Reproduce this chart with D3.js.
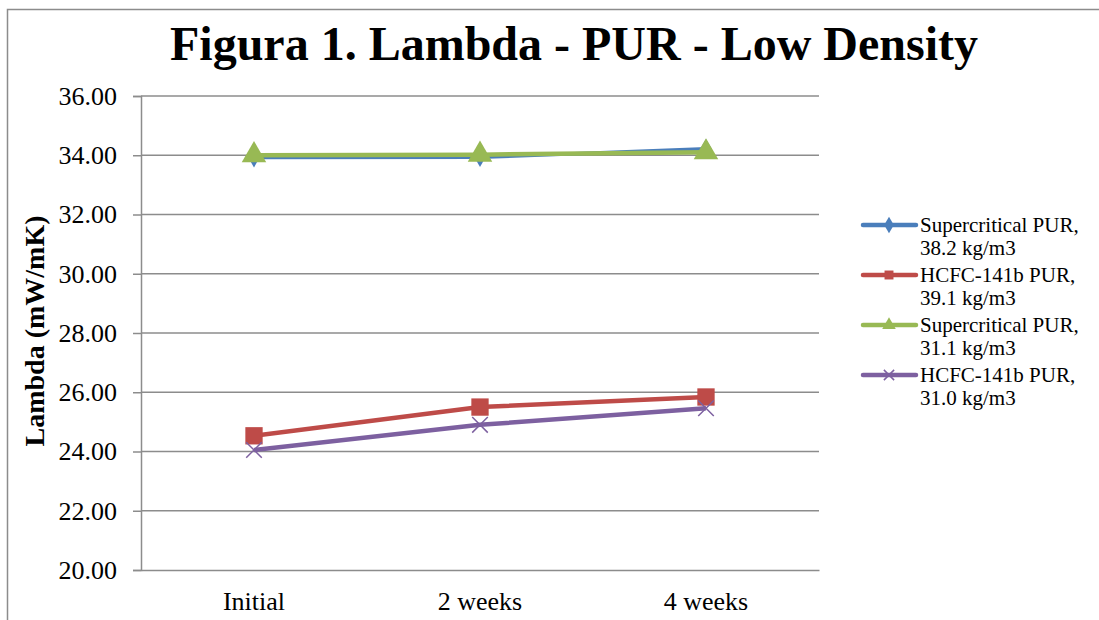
<!DOCTYPE html>
<html>
<head>
<meta charset="utf-8">
<script src="https://d3js.org/d3.v7.min.js"></script>
<style>
  body { margin: 0; background: #fff; }
  text { font-family: "Liberation Serif", "Times New Roman", serif; }
</style>
</head>
<body>
<div id="chart"></div>
<script>
// data
var categories = ["Initial", "2 weeks", "4 weeks"];
var seriesNames = ["Supercritical PUR, 38.2 kg/m3", "HCFC-141b PUR, 39.1 kg/m3",
                   "Supercritical PUR, 31.1 kg/m3", "HCFC-141b PUR, 31.0 kg/m3"];
var sc382 = [33.92, 33.93, 34.22];
var hc391 = [24.53, 25.50, 25.84];
var sc311 = [34.00, 34.02, 34.10];
var hc310 = [24.05, 24.90, 25.46];
var yTicks = [20, 22, 24, 26, 28, 30, 32, 34, 36];

var colors = ["#4a7ebb", "#be4b48", "#98b954", "#7d60a0"];
var symbols = [d3.symbolDiamond, d3.symbolSquare, d3.symbolTriangle, d3.symbolX];
var allSeries = [sc382, hc391, sc311, hc310];

var W = 1099, H = 620;
var svg = d3.select("#chart").append("svg").attr("width", W).attr("height", H);

// outer chart border
svg.append("rect").attr("x", 7.5).attr("y", 9.5).attr("width", 1200).attr("height", 700)
  .attr("fill", "none").attr("stroke", "#8c8c8c").attr("stroke-width", 1.5);

var pLeft = 141, pRight = 819, pTop = 96, pBottom = 570;
var x = d3.scaleBand().domain(categories).range([pLeft, pRight]);
var y = d3.scaleLinear().domain([20, 36]).range([pBottom, pTop]);

// gridlines
svg.append("g").selectAll("line").data(yTicks.slice(1)).join("line")
  .attr("x1", pLeft).attr("x2", pRight)
  .attr("y1", function(d) { return y(d); }).attr("y2", function(d) { return y(d); })
  .attr("stroke", "#8c8c8c").attr("stroke-width", 1.5);

// y axis
var yAxis = svg.append("g").attr("transform", "translate(" + pLeft + ",0)")
  .call(d3.axisLeft(y).tickValues(yTicks).tickSize(8).tickPadding(16)
    .tickFormat(function(d) { return d.toFixed(2); }));
yAxis.select(".domain").attr("stroke", "#8c8c8c").attr("stroke-width", 1.5);
yAxis.selectAll(".tick line").attr("stroke", "#8c8c8c").attr("stroke-width", 1.5);
yAxis.selectAll(".tick text").attr("font-family", "Liberation Serif").attr("font-size", 26).attr("fill", "#000");

// x axis
var xAxis = svg.append("g").attr("transform", "translate(0," + pBottom + ")")
  .call(d3.axisBottom(x).tickSize(0).tickPadding(22));
xAxis.select(".domain").attr("stroke", "#8c8c8c").attr("stroke-width", 1.5);
xAxis.selectAll(".tick text").attr("font-family", "Liberation Serif").attr("font-size", 26).attr("fill", "#000");

// title
svg.append("text").attr("x", 574).attr("y", 60).attr("text-anchor", "middle")
  .attr("font-weight", "bold").attr("font-size", 48).text("Figura 1. Lambda - PUR - Low Density");

// y title
svg.append("text").attr("transform", "translate(44,331) rotate(-90)")
  .attr("text-anchor", "middle").attr("font-weight", "bold").attr("font-size", 28)
  .text("Lambda (mW/mK)");

var line = d3.line().x(function(d, i) { return x(categories[i]) + x.bandwidth() / 2; })
  .y(function(d) { return y(d); });

var symSize = [110, 300, 260, 160];

allSeries.forEach(function(vals, s) {
  svg.append("path").datum(vals).attr("d", line).attr("fill", "none")
    .attr("stroke", colors[s]).attr("stroke-width", s === 0 ? 3.5 : 4.5)
    .attr("stroke-linejoin", "round");
  svg.append("g").selectAll("path").data(vals).join("path")
    .attr("transform", function(d, i) {
      return "translate(" + (x(categories[i]) + x.bandwidth() / 2) + "," + y(d) + ")";
    })
    .attr("d", d3.symbol().type(symbols[s]).size(symSize[s]))
    .attr("fill", s === 3 ? "none" : colors[s])
    .attr("stroke", s === 3 ? colors[s] : "none")
    .attr("stroke-width", 1.5);
});

// legend
var legend = svg.append("g");
seriesNames.forEach(function(name, s) {
  var ly = 225 + s * 50;
  var g = legend.append("g");
  g.append("line").attr("x1", 863).attr("x2", 916).attr("y1", ly).attr("y2", ly)
    .attr("stroke", colors[s]).attr("stroke-width", 4.5).attr("stroke-linecap", "round");
  g.append("path").attr("transform", "translate(889," + ly + ")")
    .attr("d", d3.symbol().type(symbols[s]).size(s === 3 ? 70 : 80))
    .attr("fill", s === 3 ? "none" : colors[s])
    .attr("stroke", s === 3 ? colors[s] : "none").attr("stroke-width", 1.5);
  var parts = name.split(", ");
  var t = g.append("text").attr("x", 920).attr("y", ly + 7).attr("font-size", 21);
  t.append("tspan").attr("x", 920).text(parts[0] + ",");
  t.append("tspan").attr("x", 920).attr("dy", 23).text(parts[1]);
});
</script>
</body>
</html>
